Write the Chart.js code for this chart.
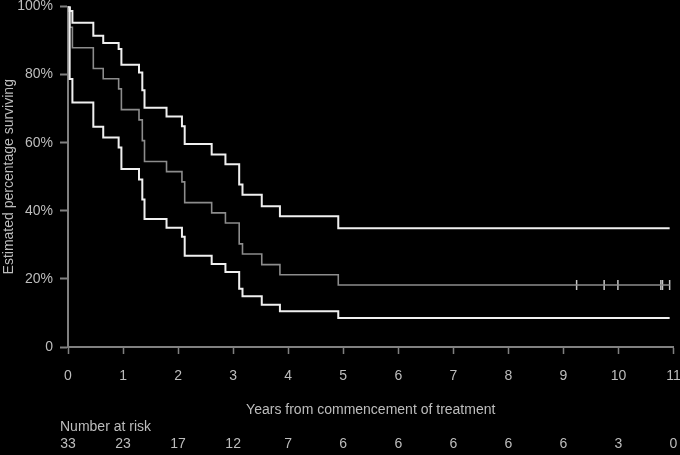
<!DOCTYPE html>
<html>
<head>
<meta charset="utf-8">
<script src="https://cdn.jsdelivr.net/npm/chart.js@4.4.1/dist/chart.umd.min.js"></script>
<style>
html, body { margin: 0; padding: 0; background: #000; }
canvas { display: block; }
</style>
</head>
<body>
<canvas id="km" width="680" height="455"></canvas>
<script>
// times of the drops (years) and the estimate with its 95% limits
var eventYears = [0, 0.03, 0.08, 0.46, 0.64, 0.92, 0.97, 1.29, 1.35, 1.39, 1.79, 2.07, 2.12, 2.61, 2.86, 3.11, 3.17, 3.52, 3.85, 4.91, 10.93];
var estimate = [100, 93.9, 87.9, 81.8, 78.8, 75.8, 69.7, 66.7, 60.6, 54.5, 51.5, 48.5, 42.4, 39.4, 36.4, 30.3, 27.3, 24.2, 21.2, 18.2, 18.2];
var upperCI = [100, 98.7, 95.2, 91.4, 89.3, 87.5, 82.9, 80.6, 75.4, 70.3, 67.7, 64.8, 59.6, 56.5, 53.7, 47.7, 44.7, 41.3, 38.4, 34.9, 34.9];
var lowerCI = [100, 78.7, 71.8, 64.7, 61.5, 58.6, 52.3, 49.2, 43.3, 37.6, 35.0, 32.4, 26.8, 24.4, 22.0, 17.1, 14.9, 12.4, 10.5, 8.5, 8.5];

// censored patients (tick marks on the estimate)
var censoredYears = [9.24, 9.74, 9.99, 10.77, 10.80, 10.93];
var censoredLevel = 18.2;

// risk table under the axis
var yearTicks = [0, 1, 2, 3, 4, 5, 6, 7, 8, 9, 10, 11];
var numberAtRisk = [33, 23, 17, 12, 7, 6, 6, 6, 6, 6, 3, 0];

var textColor = '#bdbdbd';
var axisColor = '#808080';
var fontFamily = '"Liberation Sans", Arial, sans-serif';

function toPoints(xs, ys) {
    var pts = [];
    for (var i = 0; i < xs.length; i++) {
        pts.push({ x: xs[i], y: ys[i] });
    }
    return pts;
}

var censorPoints = censoredYears.map(function (t) {
    return { x: t, y: censoredLevel };
});

// draws the "Number at risk" rows under the x axis title
var riskTable = {
    id: 'riskTable',
    afterDraw: function (chart) {
        var ctx = chart.ctx;
        var xs = chart.scales.x;
        ctx.save();
        ctx.fillStyle = textColor;
        ctx.font = '14px ' + fontFamily;
        ctx.textBaseline = 'middle';
        ctx.textAlign = 'left';
        ctx.fillText('Number at risk', 60, 427);
        ctx.textAlign = 'center';
        for (var i = 0; i < yearTicks.length; i++) {
            ctx.fillText(String(numberAtRisk[i]), xs.getPixelForValue(yearTicks[i]), 444);
        }
        ctx.restore();
    }
};

var config = {
    type: 'line',
    data: {
        datasets: [
            {
                label: 'Upper 95% limit',
                data: toPoints(eventYears, upperCI),
                stepped: true,
                borderColor: '#f0f0f0',
                borderWidth: 2,
                pointRadius: 0,
                fill: false
            },
            {
                label: 'Lower 95% limit',
                data: toPoints(eventYears, lowerCI),
                stepped: true,
                borderColor: '#f0f0f0',
                borderWidth: 2,
                pointRadius: 0,
                fill: false
            },
            {
                label: 'Estimate',
                data: toPoints(eventYears, estimate),
                stepped: true,
                borderColor: '#8c8c8c',
                borderWidth: 1.6,
                pointRadius: 0,
                fill: false
            },
            {
                label: 'Censored',
                data: censorPoints,
                showLine: false,
                pointStyle: 'line',
                rotation: 90,
                pointRadius: 5,
                borderColor: '#c8c8c8',
                borderWidth: 1.5
            }
        ]
    },
    options: {
        responsive: false,
        animation: false,
        devicePixelRatio: 1,
        layout: { padding: { top: 5, right: 6, left: 0, bottom: 0 } },
        plugins: {
            legend: { display: false },
            tooltip: { enabled: false }
        },
        scales: {
            x: {
                type: 'linear',
                min: 0,
                max: 11,
                afterFit: function (scale) {
                    scale.height = 108;
                    scale.paddingLeft = 0;
                    scale.paddingRight = 0;
                },
                ticks: {
                    stepSize: 1,
                    color: textColor,
                    padding: 14,
                    font: { family: fontFamily, size: 14 }
                },
                grid: {
                    drawOnChartArea: false,
                    drawTicks: true,
                    tickLength: 7,
                    tickWidth: 1.5,
                    tickColor: axisColor
                },
                border: { display: true, color: axisColor, width: 2 },
                title: {
                    display: true,
                    text: 'Years from commencement of treatment',
                    color: textColor,
                    font: { family: fontFamily, size: 14 },
                    padding: { top: 0, bottom: 36 }
                }
            },
            y: {
                min: 0,
                max: 100,
                afterFit: function (scale) {
                    scale.width = 68;
                    scale.paddingTop = 0;
                    scale.paddingBottom = 0;
                },
                ticks: {
                    stepSize: 20,
                    color: textColor,
                    padding: 7,
                    font: { family: fontFamily, size: 14 },
                    callback: function (v) {
                        return v === 0 ? '0' : v + '%';
                    }
                },
                grid: {
                    drawOnChartArea: false,
                    drawTicks: true,
                    tickLength: 8,
                    tickWidth: 2,
                    tickColor: axisColor
                },
                border: { display: true, color: axisColor, width: 2 },
                title: {
                    display: true,
                    text: 'Estimated percentage surviving',
                    color: textColor,
                    font: { family: fontFamily, size: 14 },
                    padding: { top: 1, bottom: 0 }
                }
            }
        }
    },
    plugins: [riskTable]
};

var kmChart = new Chart(document.getElementById('km').getContext('2d'), config);
</script>
</body>
</html>
